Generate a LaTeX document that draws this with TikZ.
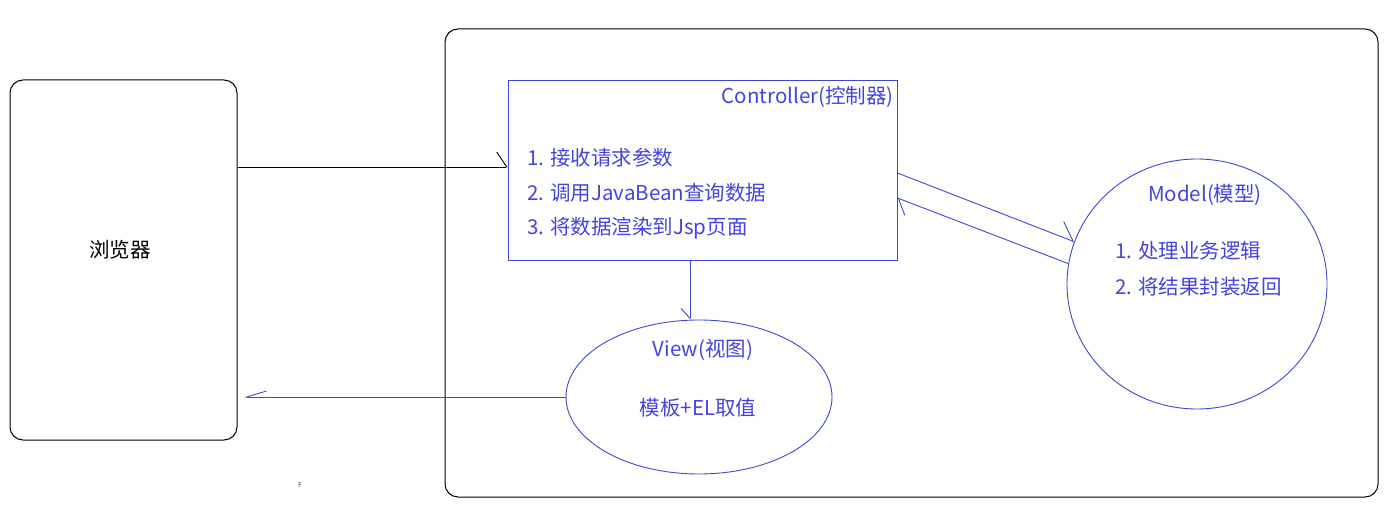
\documentclass[tikz,border=0pt]{standalone}
\usepackage{fontspec}
\setmainfont{Noto Sans CJK SC}
\usepackage{xcolor}
\usetikzlibrary{arrows.meta, positioning, shapes.geometric}

\definecolor{linecol}{RGB}{63,72,204}
\definecolor{textcol}{RGB}{68,68,220}

\begin{document}
\begin{tikzpicture}[
  x=1pt, y=-1pt,
  every node/.style={font=\fontsize{20.5}{24}\selectfont, inner sep=0pt},
  frame/.style={draw=black, line width=1pt, rounded corners=13pt},
  ctrlbox/.style={draw=linecol, line width=0.9pt, rectangle},
  bubble/.style={draw=linecol, line width=0.9pt, ellipse},
  lbl/.style={text=textcol},
  half/.style={line width=0.9pt, -{Straight Barb[#1]}},
]
  \useasboundingbox (0,0) rectangle (1392,513);

  % ── Browser and server frame ─────────────────────
  \node[frame, minimum width=227pt, minimum height=360pt] (browser) at (123.5,260) {};
  \node at (120,250) {浏览器};
  \node[frame, minimum width=933pt, minimum height=468pt] (server) at (911.5,263) {};

  % ── Controller ───────────────────────────────────
  \node[ctrlbox, minimum width=389pt, minimum height=180pt] (ctrl) at (702.5,170) {};
  \node[lbl, anchor=east] (ctrltitle) at (894,97) {Controller(控制器)};
  \node[lbl, anchor=west] (c1) at (527,158) {1. 接收请求参数};
  \node[lbl, anchor=west] (c2) at (527,193) {2. 调用JavaBean查询数据};
  \node[lbl, anchor=west] (c3) at (527,228) {3. 将数据渲染到Jsp页面};

  % ── Model ────────────────────────────────────────
  \node[bubble, minimum width=260pt, minimum height=250pt] (model) at (1197,284) {};
  \node[lbl] (modeltitle) at (1205,195) {Model(模型)};
  \node[lbl, anchor=west] (m1) at (1115,251) {1. 处理业务逻辑};
  \node[lbl, anchor=west] (m2) at (1115,287) {2. 将结果封装返回};

  % ── View ─────────────────────────────────────────
  \node[bubble, minimum width=266pt, minimum height=154pt] (view) at (699,397) {};
  \node[lbl] (viewtitle) at (703,350) {View(视图)};
  \node[lbl] (viewbody) at (698,408) {模板+EL取值};

  % ── Stray mark ───────────────────────────────────
  \node[text=black!70, font=\fontsize{7}{8}\selectfont] (mark) at (300,485) {F};

  % ── Request / response flow ──────────────────────
  \draw[half={left, length=10pt, width=30pt}, black] (browser.east |- 0,167) -- (ctrl.west |- 0,167);
  \draw[half={left, length=16pt, width=30pt}, linecol] ([yshift=-3pt]ctrl.east) -- (model.161);
  \draw[half={left, length=12pt, width=27pt}, linecol] (model.171) -- ([yshift=-28pt]ctrl.east);
  \draw[half={right, length=10pt, width=18pt}, linecol] ([xshift=-12.5pt]ctrl.south) -- ([xshift=-12.5pt]ctrl.south |- view.north);
  \draw[half={right, length=20pt, width=12pt}, linecol] (view.west) -- ([xshift=6pt]browser.east |- view.west);

\end{tikzpicture}
\end{document}
